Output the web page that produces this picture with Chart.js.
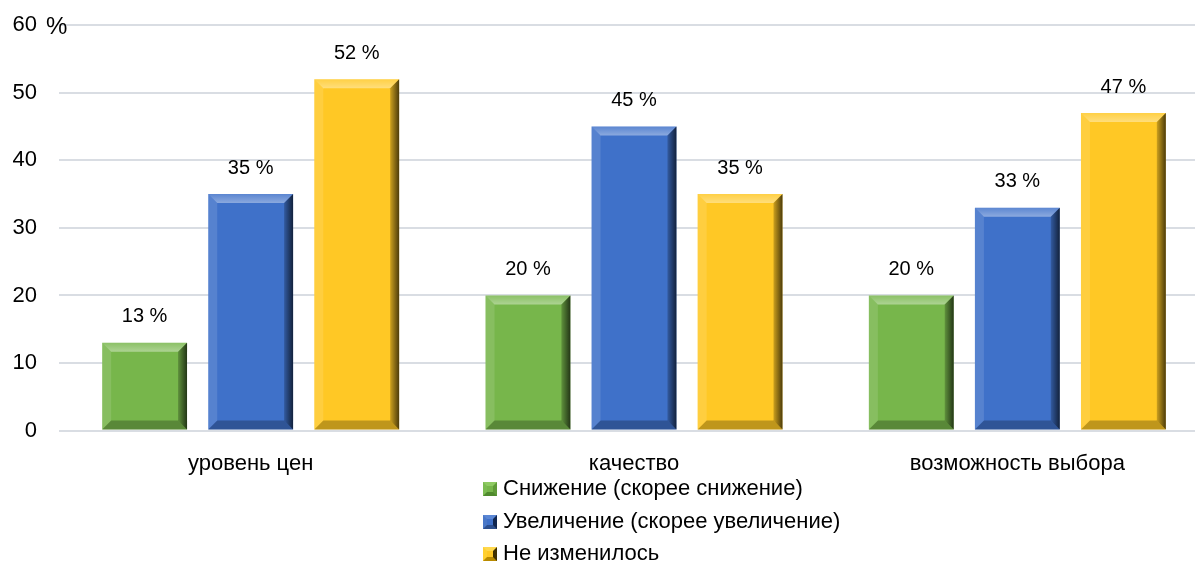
<!DOCTYPE html>
<html>
<head>
<meta charset="utf-8">
<script src="https://cdn.jsdelivr.net/npm/chart.js@4"></script>
<style>
  body { margin: 0; background: #fff; overflow: hidden; }
  #wrap { position: relative; width: 1195px; height: 563px; overflow: hidden; }
  #chart { position: absolute; left: 0; top: -10px; }
  #legend { position: absolute; left: 483px; top: 473px; font: 22px "Liberation Sans", sans-serif; color: #000; }
  #legend div { height: 32.5px; line-height: 30px; white-space: nowrap; }
  #legend span.box { display: inline-block; width: 6px; height: 6px; border: 4px solid; margin-right: 6px; vertical-align: -1px; }
</style>
</head>
<body>
<div id="wrap">
  <canvas id="chart" width="1209" height="573"></canvas>
  <div id="legend"></div>
</div>
<script>
const categories = ['уровень цен', 'качество', 'возможность выбора'];
const seriesNames = ['Снижение (скорее снижение)', 'Увеличение (скорее увеличение)', 'Не изменилось'];
const decrease = [13, 20, 20];
const increase = [35, 45, 33];
const unchanged = [52, 35, 47];

const colors = ['#77b64b', '#3f71c9', '#ffc825'];
const font = '"Liberation Sans", sans-serif';

// legend below the chart, one item per line
const legend = document.getElementById('legend');
const boxBorders = [
  '#8fca63 #5f9a38 #4f8a2d #7cbc52',
  '#5a86d4 #10264f #2c4f8e #4a78c8',
  '#ffd84d #3f3000 #b88a00 #ffd030'
];
seriesNames.forEach((name, i) => {
  const row = document.createElement('div');
  row.innerHTML = '<span class="box" style="background:' + colors[i] + ';border-color:' + boxBorders[i] + '"></span>' + name;
  legend.appendChild(row);
});

// bevel effect on bars
const bevelPlugin = {
  id: 'bevel',
  afterDatasetsDraw(chart) {
    const c = chart.ctx;
    chart.data.datasets.forEach((ds, di) => {
      chart.getDatasetMeta(di).data.forEach(bar => {
        const l = bar.x - bar.width / 2, r = bar.x + bar.width / 2;
        const t = bar.y, b = bar.base, s = 9;
        const poly = (pts, fill) => {
          c.beginPath();
          c.moveTo(pts[0][0], pts[0][1]);
          pts.slice(1).forEach(p => c.lineTo(p[0], p[1]));
          c.closePath();
          c.fillStyle = fill;
          c.fill();
        };
        c.save();
        const gt = c.createLinearGradient(0, t, 0, t + s);
        gt.addColorStop(0, 'rgba(255,255,255,0.15)');
        gt.addColorStop(1, 'rgba(255,255,255,0.4)');
        poly([[l, t], [r, t], [r - s, t + s], [l + s, t + s]], gt);
        poly([[l, t], [l + s, t + s], [l + s, b - s], [l, b]], 'rgba(255,255,255,0.12)');
        const g = c.createLinearGradient(r - s, 0, r, 0);
        g.addColorStop(0, 'rgba(0,0,0,0.2)');
        g.addColorStop(1, 'rgba(0,0,0,0.7)');
        poly([[r, t], [r, b], [r - s, b - s], [r - s, t + s]], g);
        poly([[l, b], [r, b], [r - s, b - s], [l + s, b - s]], 'rgba(0,0,0,0.25)');
        c.restore();
      });
    });
  }
};

// value labels above bars and the "%" after the top tick
const labelPlugin = {
  id: 'labels',
  afterDatasetsDraw(chart) {
    const c = chart.ctx;
    c.save();
    c.font = '20px ' + font;
    c.fillStyle = '#000';
    c.textAlign = 'center';
    c.textBaseline = 'middle';
    chart.data.datasets.forEach((ds, di) => {
      chart.getDatasetMeta(di).data.forEach((bar, i) => {
        c.fillText(ds.data[i] + ' %', bar.x, bar.y - 26);
      });
    });
    const y = chart.scales.y;
    c.textAlign = 'left';
    c.font = '24px ' + font;
    c.fillText('%', 46, y.getPixelForValue(60) + 2);
    c.restore();
  }
};

new Chart(document.getElementById('chart'), {
  type: 'bar',
  data: {
    labels: categories,
    datasets: [
      { label: seriesNames[0], data: decrease, backgroundColor: colors[0] },
      { label: seriesNames[1], data: increase, backgroundColor: colors[1] },
      { label: seriesNames[2], data: unchanged, backgroundColor: colors[2] }
    ]
  },
  options: {
    responsive: false,
    animation: false,
    barPercentage: 0.8,
    categoryPercentage: 0.83,
    layout: { padding: { top: 5, right: 0, bottom: 74, left: 0 } },
    plugins: { legend: { display: false }, tooltip: { enabled: false } },
    scales: {
      x: {
        grid: { display: false },
        border: { display: false },
        ticks: { color: '#000', font: { size: 22, family: font }, padding: 12 }
      },
      y: {
        min: 0,
        max: 60,
        afterFit(scale) { scale.width = 59; },
        ticks: { stepSize: 10, color: '#000', font: { size: 22, family: font }, padding: 22 },
        grid: { color: '#d9dde3', lineWidth: 2, drawTicks: false },
        border: { display: false }
      }
    }
  },
  plugins: [bevelPlugin, labelPlugin]
});
</script>
</body>
</html>
